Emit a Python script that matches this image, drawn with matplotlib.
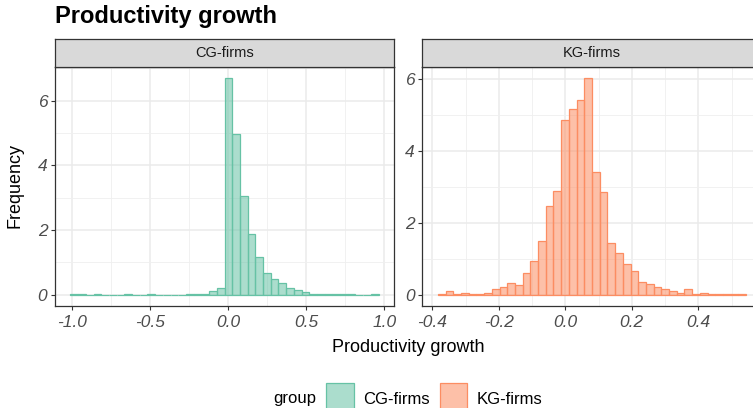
import matplotlib.pyplot as plt
from matplotlib.colors import to_rgba
from matplotlib.patches import Rectangle
from matplotlib.ticker import MultipleLocator
import numpy as np

plt.rcParams['font.family'] = ['Liberation Sans', 'DejaVu Sans']

groups = ["CG-firms", "KG-firms"]
colors = ["#66C2A5", "#FC8D62"]

# histogram densities, 40 bins each
cg_start = -1.0106
cg_width = 0.04937
cg_density = [
    0.03, 0.02, 0.01, 0.02, 0.01, 0.01, 0.01, 0.02, 0.01, 0.01,
    0.02, 0.01, 0.01, 0.01, 0.01, 0.02, 0.03, 0.04, 0.12, 0.21,
    6.70, 4.97, 3.05, 1.89, 1.16, 0.67, 0.48, 0.36, 0.22, 0.15,
    0.08, 0.04, 0.04, 0.03, 0.02, 0.02, 0.02, 0.01, 0.01, 0.03,
]

kg_start = -0.3830
kg_width = 0.02317
kg_density = [
    0.02, 0.11, 0.01, 0.06, 0.03, 0.03, 0.06, 0.17, 0.22, 0.34,
    0.28, 0.62, 0.93, 1.50, 2.48, 2.89, 4.88, 5.18, 5.41, 6.04,
    3.43, 2.86, 1.44, 1.16, 0.85, 0.67, 0.37, 0.31, 0.22, 0.17,
    0.12, 0.06, 0.15, 0.01, 0.06, 0.03, 0.03, 0.03, 0.01, 0.03,
]

x_major = [0.5, 0.2]

W, H = 753, 408
fig = plt.figure(figsize=(W / 100, H / 100), dpi=100)


def fx(px):
    return px / W


def fy(py):
    return 1 - py / H


panel_top, panel_bottom = 67, 305.7
panel_lefts = [55, 422.5]
panel_w = 339

data = [(cg_start, cg_width, cg_density), (kg_start, kg_width, kg_density)]

for i, (start, width, dens) in enumerate(data):
    left = panel_lefts[i]
    ax = fig.add_axes([fx(left), fy(panel_bottom), panel_w / W,
                       (panel_bottom - panel_top) / H])
    dens = np.array(dens)
    lefts = start + width * np.arange(len(dens))
    ax.bar(lefts, dens, width=width, align='edge',
           facecolor=to_rgba(colors[i], 0.55), edgecolor=colors[i],
           linewidth=0.9, zorder=3)

    # ggplot-style 5% expansion
    x0, x1 = start, start + width * len(dens)
    dx = (x1 - x0) * 0.05
    ax.set_xlim(x0 - dx, x1 + dx)
    ymax = dens.max()
    ax.set_ylim(-ymax * 0.05, ymax * 1.05)

    ax.xaxis.set_major_locator(MultipleLocator(x_major[i]))
    ax.xaxis.set_minor_locator(MultipleLocator(x_major[i] / 2))
    ax.yaxis.set_major_locator(MultipleLocator(2))
    ax.yaxis.set_minor_locator(MultipleLocator(1))
    ax.xaxis.set_major_formatter(lambda v, p: f"{v:.1f}")
    ax.yaxis.set_major_formatter(lambda v, p: f"{v:.0f}")

    ax.grid(which='major', color='#EBEBEB', linewidth=1.1, zorder=0)
    ax.grid(which='minor', color='#EFEFEF', linewidth=0.6, zorder=0)
    ax.set_axisbelow(True)
    ax.tick_params(which='major', length=3, width=0.8, color='#333333',
                   labelsize=12.5, labelcolor='#4D4D4D', pad=2.5)
    ax.tick_params(axis='x', which='major', pad=4)
    ax.tick_params(which='minor', length=0)
    for lab in ax.get_xticklabels() + ax.get_yticklabels():
        lab.set_fontstyle('italic')
    for sp in ax.spines.values():
        sp.set_color('#333333')
        sp.set_linewidth(0.9)

    # facet strip
    strip = fig.add_axes([fx(left), fy(panel_top), panel_w / W,
                          (panel_top - 38.5) / H])
    strip.set_facecolor('#D9D9D9')
    strip.set_xticks([])
    strip.set_yticks([])
    for sp in strip.spines.values():
        sp.set_color('#333333')
        sp.set_linewidth(0.9)
    strip.text(0.5, 0.5, groups[i], ha='center', va='center',
               fontsize=10.5, color='#1A1A1A', transform=strip.transAxes)

fig.text(fx(55), fy(17), "Productivity growth", fontsize=17,
         fontweight='bold', ha='left', va='center')
fig.text(fx(408), fy(347), "Productivity growth", fontsize=13,
         ha='center', va='center')
fig.text(fx(15), fy(186), "Frequency", fontsize=13, rotation=90,
         ha='center', va='center')

# legend
fig.text(fx(273), fy(399), "group", fontsize=12, ha='left', va='center')
key_x = [326, 439.5]
text_x = [363, 477]
for i in range(2):
    fig.patches.append(Rectangle((fx(key_x[i]), fy(410)), 27.5 / W, 27.5 / H,
                                 transform=fig.transFigure,
                                 facecolor=to_rgba(colors[i], 0.55),
                                 edgecolor=colors[i], linewidth=0.9))
    fig.text(fx(text_x[i]), fy(399), groups[i], fontsize=12,
             ha='left', va='center')

fig.savefig("out.png", dpi=100)
